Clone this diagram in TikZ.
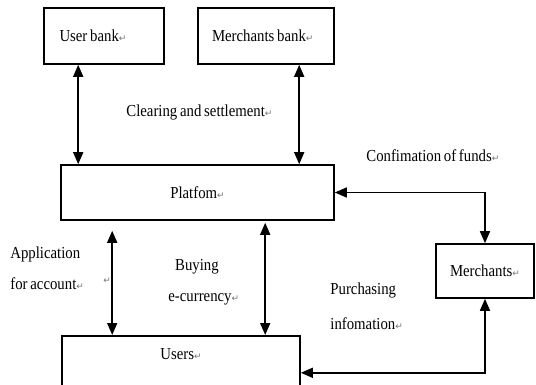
\documentclass[tikz,border=0pt]{standalone}
\usepackage{fontspec}
\setmainfont{Liberation Serif}[FakeStretch=0.88,WordSpace=0.75]
\newfontfamily\retfont{DejaVu Sans}
\usetikzlibrary{arrows.meta}
\newcommand{\enterm}{{\retfont\fontsize{4.5}{5}\selectfont\color{black!55}↵}}
\tikzstyle{texte}  =[font=\fontsize{8.4}{10}\selectfont, inner sep=0pt]
\tikzstyle{cadre}  =[texte, draw, line width=0.8pt]
\tikzstyle{fleche} =[line width=0.8pt, {Triangle[length=6pt,width=5pt]}-{Triangle[length=6pt,width=5pt]}]

\begin{document}
\begin{tikzpicture}[x=0.5pt,y=-0.5pt]
 \useasboundingbox (0,0) rectangle (536,385);
 \node[cadre, minimum width=60pt, minimum height=28pt] (userbank) at (104,36) {\makebox[44.5pt][l]{User bank\enterm}};
 \node[cadre, minimum width=68pt, minimum height=28pt] (merchbank) at (266,36) {\makebox[54pt][l]{Merchants bank\enterm}};
 \node[cadre, minimum width=136.5pt, minimum height=27.5pt] (platform) at (197.5,192.5) {Platfom\enterm};
 \node[cadre, minimum width=49pt, minimum height=27pt] (merchants) at (485,271) {Merchants\enterm};
 \node[cadre, minimum width=119pt, text height=12pt, text depth=25pt, anchor=north] (users) at (181,335) {Users\enterm};

 \node[texte, anchor=west] (clearing) at (126,112) {Clearing and settlement\enterm};
 \node[texte, anchor=west] (funds) at (366,156) {Confimation of funds\enterm};
 \node[texte, anchor=west] (appl) at (10,254) {Application};
 \node[texte, anchor=west] (account) at (10,284) {for account\enterm};
 \node[texte, anchor=west] (stray) at (103,281) {\enterm};
 \node[texte] (buying) at (197,267) {Buying};
 \node[texte, anchor=west] (ecur) at (168,299) {e-currency\enterm};
 \node[texte, anchor=west] (purch) at (330,290) {Purchasing};
 \node[texte, anchor=west] (info) at (330,324) {infomation\enterm};

 \coordinate (a) at ([xshift=17.5pt]userbank.south west);
 \coordinate (b) at ([xshift=51pt]merchbank.south west);
 \coordinate (c) at ([shift={(26pt,-5pt)}]platform.south west);
 \coordinate (d) at ([shift={(102.5pt,-1pt)}]platform.south west);
 \draw[fleche] (a) -- (a |- platform.north);
 \draw[fleche] (b) -- (b |- platform.north);
 \draw[fleche] (c) -- (c |- users.north);
 \draw[fleche] (d) -- (d |- users.north);
 \draw[fleche] (platform.east) -| (merchants.north);
 \draw[fleche] (users.east) -| (merchants.south);
\end{tikzpicture}
\end{document}
